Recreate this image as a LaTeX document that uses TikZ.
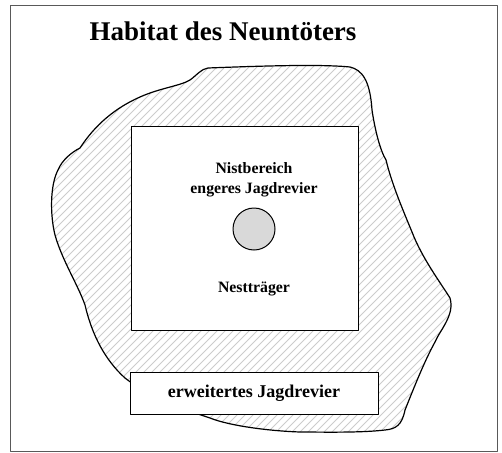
\documentclass[tikz,border=0pt]{standalone}
\usepackage{fontspec}
\setmainfont{Liberation Serif}
\usepackage{tikz}
\usetikzlibrary{calc}

\begin{document}
\begin{tikzpicture}[
		x=1pt,
		y=-1pt,
		line cap=round,
		line join=round,
		hatch/.style={gray!40, line width=0.9pt},
		outline/.style={line width=1.2pt},
		field/.style={draw, line width=1pt, fill=white},
		label/.style={font=\bfseries\fontsize{15.8}{18}\selectfont, inner sep=0pt}
	]
	% Frame
	\useasboundingbox (0,0) rectangle (502,452);
	\draw[gray!70!black, line width=0.8pt] (10,5) rectangle (497,451);
	
	% Title
	\node[font=\bfseries\fontsize{27}{30}\selectfont, inner sep=0pt] (title) at (223,31) {Habitat des Neuntöters};
	
	% Habitat outline
	\def\blob{(208,68) .. controls (260,66) and (320,64) .. (350,67)
		.. controls (362,70) and (370,80) .. (372,110)
		.. controls (375,130) and (380,150) .. (386,160)
		.. controls (392,185) and (405,215) .. (412,232)
		.. controls (422,258) and (440,282) .. (450,298)
		.. controls (455,315) and (440,330) .. (435,342)
		.. controls (425,360) and (415,385) .. (405,410)
		.. controls (402,425) and (396,429) .. (385,430)
		.. controls (360,433) and (320,432) .. (300,432)
		.. controls (270,431) and (230,426) .. (210,418)
		.. controls (170,405) and (140,390) .. (125,378)
		.. controls (105,360) and (92,335) .. (85,305)
		.. controls (78,285) and (62,260) .. (55,235)
		.. controls (50,215) and (50,185) .. (58,170)
		.. controls (62,160) and (72,152) .. (80,148)
		.. controls (95,125) and (115,108) .. (140,97)
		.. controls (160,88) and (180,86) .. (190,80)
		.. controls (197,75) and (201,69) .. (208,68)}
	
	\begin{scope}
		\clip \blob -- cycle;
		\foreach \s in {0,8,...,800}
		\draw[hatch] (\s-400,460) -- (\s,60);
	\end{scope}
	\draw[outline] \blob -- cycle;
	
	% Nesting area
	\draw[field] (131,126) rectangle (358,330);
	\node[label] (nist) at (254,168) {Nistbereich};
	\node[label] (jagd) at (254,190) {engeres Jagdrevier};
	\draw[line width=1pt, fill=gray!30] (254,229) circle (21);
	\node[label] (nest) at (254,289) {Nestträger};
	
	% Outer hunting ground
	\draw[field] (130,372) rectangle (378,414);
	\node[label, font=\bfseries\fontsize{18}{20}\selectfont] (weit) at (254,393) {erweitertes Jagdrevier};
\end{tikzpicture}
\end{document}
